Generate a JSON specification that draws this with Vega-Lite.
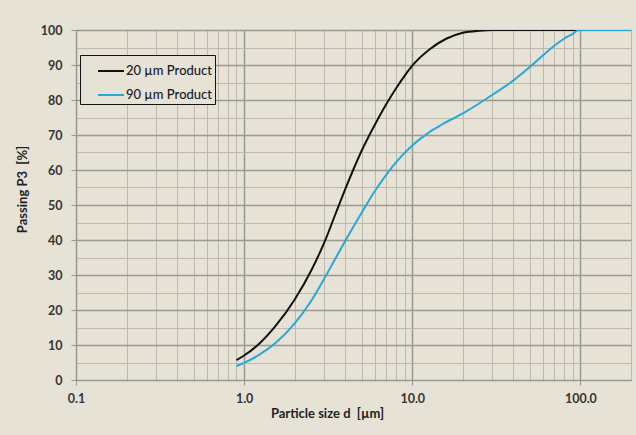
{
  "$schema": "https://vega.github.io/schema/vega-lite/v6.json",
  "width": 555,
  "height": 350,
  "autosize": {"type": "none"},
  "padding": {"left": 76, "top": 30, "right": 5, "bottom": 55},
  "background": "#e6e2d6",
  "config": {
    "view": {"stroke": "#9a978f", "strokeWidth": 1},
    "font": "Lato",
    "axis": {
      "labelFont": "Lato",
      "labelFontWeight": "bold",
      "labelFontSize": 12.5,
      "labelColor": "#353535",
      "titleFont": "Lato",
      "titleFontWeight": "bold",
      "titleFontSize": 13,
      "titleColor": "#222222",
      "domainColor": "#9a978f",
      "tickColor": "#9a978f"
    }
  },
  "data": {
    "values": [
      {"d": 0.9, "p": 5.7, "s": "20 µm Product"},
      {"d": 1.0, "p": 7.0, "s": "20 µm Product"},
      {"d": 1.22, "p": 10.2, "s": "20 µm Product"},
      {"d": 1.53, "p": 15.3, "s": "20 µm Product"},
      {"d": 2.0, "p": 23.0, "s": "20 µm Product"},
      {"d": 2.52, "p": 31.5, "s": "20 µm Product"},
      {"d": 3.0, "p": 39.3, "s": "20 µm Product"},
      {"d": 3.5, "p": 47.5, "s": "20 µm Product"},
      {"d": 4.0, "p": 54.6, "s": "20 µm Product"},
      {"d": 5.0, "p": 65.5, "s": "20 µm Product"},
      {"d": 6.0, "p": 73.0, "s": "20 µm Product"},
      {"d": 7.0, "p": 78.8, "s": "20 µm Product"},
      {"d": 8.0, "p": 83.3, "s": "20 µm Product"},
      {"d": 9.0, "p": 86.9, "s": "20 µm Product"},
      {"d": 10.0, "p": 89.8, "s": "20 µm Product"},
      {"d": 12.7, "p": 94.5, "s": "20 µm Product"},
      {"d": 15.9, "p": 97.5, "s": "20 µm Product"},
      {"d": 20.0, "p": 99.2, "s": "20 µm Product"},
      {"d": 25.0, "p": 99.8, "s": "20 µm Product"},
      {"d": 30.0, "p": 100.0, "s": "20 µm Product"},
      {"d": 100.0, "p": 100.0, "s": "20 µm Product"},
      {"d": 0.9, "p": 4.0, "s": "90 µm Product"},
      {"d": 1.0, "p": 4.9, "s": "90 µm Product"},
      {"d": 1.22, "p": 7.1, "s": "90 µm Product"},
      {"d": 1.53, "p": 10.5, "s": "90 µm Product"},
      {"d": 2.0, "p": 16.2, "s": "90 µm Product"},
      {"d": 2.52, "p": 22.8, "s": "90 µm Product"},
      {"d": 3.0, "p": 29.0, "s": "90 µm Product"},
      {"d": 3.5, "p": 34.8, "s": "90 µm Product"},
      {"d": 4.0, "p": 39.8, "s": "90 µm Product"},
      {"d": 5.0, "p": 47.8, "s": "90 µm Product"},
      {"d": 6.0, "p": 54.0, "s": "90 µm Product"},
      {"d": 7.0, "p": 58.6, "s": "90 µm Product"},
      {"d": 8.0, "p": 62.2, "s": "90 µm Product"},
      {"d": 10.0, "p": 67.0, "s": "90 µm Product"},
      {"d": 12.7, "p": 70.9, "s": "90 µm Product"},
      {"d": 15.0, "p": 73.0, "s": "90 µm Product"},
      {"d": 20.0, "p": 76.2, "s": "90 µm Product"},
      {"d": 25.0, "p": 79.0, "s": "90 µm Product"},
      {"d": 30.0, "p": 81.5, "s": "90 µm Product"},
      {"d": 40.0, "p": 85.6, "s": "90 µm Product"},
      {"d": 50.0, "p": 89.4, "s": "90 µm Product"},
      {"d": 60.0, "p": 92.8, "s": "90 µm Product"},
      {"d": 70.0, "p": 95.5, "s": "90 µm Product"},
      {"d": 80.0, "p": 97.5, "s": "90 µm Product"},
      {"d": 90.0, "p": 98.9, "s": "90 µm Product"},
      {"d": 98.0, "p": 100.0, "s": "90 µm Product"},
      {"d": 200.0, "p": 100.0, "s": "90 µm Product"}
    ]
  },
  "mark": {"type": "line", "interpolate": "monotone", "strokeWidth": 2, "clip": true},
  "encoding": {
    "x": {
      "field": "d",
      "type": "quantitative",
      "scale": {"type": "log", "domain": [0.1, 200], "nice": false},
      "axis": {
        "title": "Particle size d\u00a0 [µm]",
        "titleX": 251,
        "titlePadding": 3,
        "values": [0.1,0.2,0.3,0.4,0.5,0.6,0.7,0.8,0.9,1,2,3,4,5,6,7,8,9,10,20,30,40,50,60,70,80,90,100,200],
        "labelExpr": "indexof([0.1,1,10,100], datum.value) >= 0 ? format(datum.value, '.1f') : ''",
        "labelPadding": 7,
        "tickSize": 5,
        "tickOpacity": {"condition": {"test": "indexof([0.1,1,10,100], datum.value) >= 0", "value": 1}, "value": 0},
        "gridColor": {"condition": {"test": "indexof([0.1,1,10,100], datum.value) >= 0", "value": "#9c998f"}, "value": "#bdb9ae"},
        "gridWidth": {"condition": {"test": "indexof([0.1,1,10,100], datum.value) >= 0", "value": 1.5}, "value": 1},
        "labelFlush": false,
        "labelOverlap": false
      }
    },
    "y": {
      "field": "p",
      "type": "quantitative",
      "scale": {"domain": [0, 100], "nice": false},
      "axis": {
        "title": "Passing P3\u00a0 [%]",
        "titleY": 159,
        "titlePadding": 11,
        "values": [0,5,10,15,20,25,30,35,40,45,50,55,60,65,70,75,80,85,90,95,100],
        "labelExpr": "datum.value % 10 == 0 ? datum.value : ''",
        "labelPadding": 9,
        "tickSize": 5,
        "tickOpacity": {"condition": {"test": "datum.value % 10 == 0", "value": 1}, "value": 0},
        "gridColor": {"condition": {"test": "datum.value % 10 == 0", "value": "#9c998f"}, "value": "#bdb9ae"},
        "gridWidth": {"condition": {"test": "datum.value % 10 == 0", "value": 1.5}, "value": 1},
        "labelOverlap": false
      }
    },
    "color": {
      "field": "s",
      "type": "nominal",
      "scale": {"domain": ["20 µm Product", "90 µm Product"], "range": ["#111111", "#29a8d8"]},
      "legend": {
        "title": null,
        "orient": "none",
        "legendX": 4,
        "legendY": 25,
        "padding": 2,
        "symbolOffset": 15,
        "symbolType": "stroke",
        "symbolSize": 676,
        "symbolStrokeWidth": 2,
        "rowPadding": 3,
        "labelOffset": 1,
        "labelFont": "Lato",
        "labelFontSize": 13,
        "labelFontWeight": 500,
        "labelColor": "#1a1a1a",
        "strokeColor": "#111111",
        "fillColor": "#e6e2d6"
      }
    }
  }
}
